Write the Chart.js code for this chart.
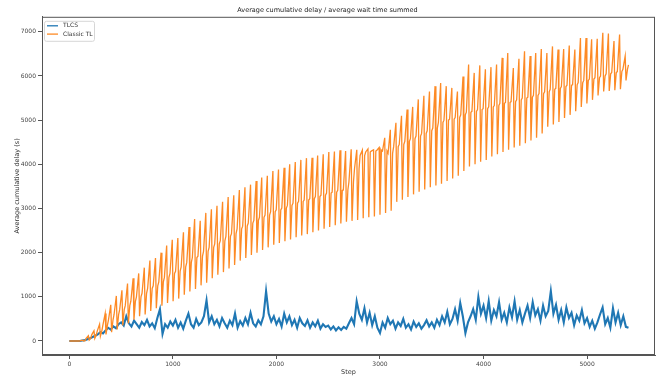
<!DOCTYPE html>
<html>
<head>
<meta charset="utf-8">
<script src="https://cdn.jsdelivr.net/npm/chart.js@4.4.1/dist/chart.umd.min.js"></script>
<style>
  html, body { margin: 0; padding: 0; background: #fff; }
  #wrap { width: 660px; height: 381px; }
</style>
</head>
<body>
<div id="wrap"><canvas id="myChart" width="660" height="381"></canvas></div>
<script>
// tick labels
const xTicks = [0, 1000, 2000, 3000, 4000, 5000];
const yTicks = [0, 1000, 2000, 3000, 4000, 5000, 6000, 7000];

// TLCS: one reading every 25 steps (0 .. 5400)
const tlcsStepSize = 25;
const tlcsValues = [
  0, 0, 0, 0, 0, 10, 20, 40, 60, 90, 120, 150, 200, 170, 240, 300, 260, 330, 290, 380,
  420, 350, 560, 400, 330, 460, 380, 300, 430, 360, 480, 330, 400, 290, 520, 720, 160, 380, 300, 440,
  350, 480, 300, 420, 280, 460, 620, 380, 300, 500, 360, 420, 560, 920, 420, 560, 380, 480, 330, 520,
  400, 300, 460, 360, 620, 300, 450, 350, 520, 380, 640, 400, 330, 470, 380, 560, 1130, 620, 440, 560,
  380, 500, 330, 620, 420, 560, 360, 480, 300, 520, 400, 340, 470, 300, 420, 330, 460, 280, 380, 320,
  350, 260, 330, 240, 310, 250, 320, 280, 400, 520, 380, 900, 620, 480, 740, 420, 640, 360, 560, 300,
  180, 420, 300, 520, 380, 460, 280, 420, 340, 500, 300, 380, 260, 440, 320, 400, 280, 360, 470, 330,
  420, 300, 480, 360, 560, 420, 660, 380, 500, 720, 460, 860, 560, 180, 420, 560, 720, 480, 1000, 620,
  800, 520, 900, 460, 700, 560, 880, 480, 640, 420, 760, 540, 900, 480, 700, 420, 620, 800, 520, 880,
  580, 720, 460, 800, 560, 680, 1130, 620, 820, 480, 700, 420, 760, 520, 640, 360, 580, 460, 700, 400,
  520, 320, 460, 280, 420, 600, 760, 380, 520, 300, 740, 420, 640, 360, 560, 320, 300
];

// Classic TL: one cycle every 54 steps, read as level / spike top / spike bottom
const classicCycle = 54;
const classicLevel = [
  0, 0, 8, 60, 140, 230, 360, 480, 600, 710,
  800, 900, 1000, 1080, 1190, 1250, 1340, 1440, 1530, 1580,
  1680, 1780, 1890, 1920, 2030, 2120, 2200, 2270, 2370, 2430,
  2540, 2600, 2670, 2730, 2800, 2850, 2930, 2970, 3010, 3070,
  3120, 3160, 3190, 3220, 3270, 3300, 3350, 3370, 3410, 3420,
  3600, 3900, 4200, 4280, 4300, 4320, 4300, 4250, 4400, 4450,
  4520, 4580, 4640, 4700, 4760, 4820, 4950, 5000, 5020, 5060,
  5120, 5180, 5200, 5240, 5260, 5300, 5330, 5380, 5400, 5420,
  5460, 5500, 5520, 5560, 5600, 5640, 5700, 5720, 5760, 5790,
  5800, 5850, 5900, 5930, 5960, 6000, 6050, 6080, 6100, 6150
];
const classicPeak = [
  0, 0, 20, 120, 230, 380, 620, 820, 1020, 1150,
  1300, 1420, 1530, 1660, 1820, 1880, 2000, 2160, 2290, 2330,
  2460, 2580, 2760, 2720, 2900, 2980, 3060, 3150, 3260, 3300,
  3420, 3480, 3540, 3620, 3700, 3740, 3850, 3880, 3920, 4000,
  4050, 4100, 4140, 4150, 4200, 4230, 4280, 4290, 4320, 4300,
  4340, 4330, 4320, 4350, 4330, 4380, 4600, 4780, 4940, 5100,
  5240, 5300, 5470, 5550, 5650, 5770, 5840, 5770, 5730, 5650,
  5990, 6260, 6070, 6240, 6150, 6200, 6260, 6410, 6520, 6180,
  6390, 6560, 6450, 6520, 6610, 6520, 6670, 6600, 6610, 6690,
  6600, 6860, 6860, 6830, 6840, 6980, 6960, 6790, 6940, 6450
];
const classicTrough = [
  0, 0, 0, 20, 60, 110, 150, 200, 260, 350,
  400, 480, 560, 600, 680, 740, 800, 860, 900, 960,
  1050, 1120, 1180, 1260, 1320, 1420, 1500, 1560, 1640, 1720,
  1820, 1880, 1950, 2000, 2060, 2120, 2180, 2220, 2260, 2300,
  2350, 2390, 2420, 2460, 2500, 2540, 2580, 2620, 2660, 2700,
  2720, 2740, 2780, 2800, 2820, 2860, 2900, 2950, 3150, 3200,
  3260, 3320, 3380, 3430, 3480, 3520, 3560, 3620, 3680, 3740,
  3850, 3950, 4000, 4060, 4100, 4180, 4230, 4280, 4330, 4380,
  4420, 4480, 4540, 4600, 4700, 4850, 4900, 4960, 5050, 5120,
  5200, 5300, 5380, 5460, 5560, 5650, 5660, 5680, 5700, 5900
];
const classicLastStep = 5400;
const classicLastValue = 6250;

const tlcsData = tlcsValues.map(function (v, i) {
    return { x: i * tlcsStepSize, y: v };
});

// level, spike up, spike down, back to level
const classicData = [];
classicLevel.forEach(function (lvl, k) {
    const s = k * classicCycle;
    classicData.push({ x: s, y: lvl });
    classicData.push({ x: s + 22, y: classicPeak[k] });
    classicData.push({ x: s + 30, y: classicTrough[k] });
    classicData.push({ x: s + 44, y: lvl });
});
classicData.push({ x: classicLastStep, y: classicLastValue });

const fontFamily = "'DejaVu Sans', sans-serif";

// matplotlib style frame + legend in the upper left corner
const framePlugin = {
    id: 'frame',
    afterDraw(chart) {
        const ctx = chart.ctx;
        const a = chart.chartArea;
        ctx.save();
        ctx.strokeStyle = '#555';
        ctx.lineWidth = 1;
        ctx.strokeRect(a.left + 0.5, a.top + 0.5, a.right - a.left - 1, a.bottom - a.top - 1);

        // legend
        const bx = a.left + 2, by = a.top + 4, bw = 50, bh = 20;
        ctx.fillStyle = 'rgba(255,255,255,0.8)';
        ctx.strokeStyle = '#d6d6d6';
        ctx.beginPath();
        ctx.roundRect(bx + 0.5, by + 0.5, bw, bh, 2);
        ctx.fill();
        ctx.stroke();
        ctx.font = '6px ' + fontFamily;
        ctx.textBaseline = 'middle';
        chart.data.datasets.forEach(function (ds, i) {
            const y = by + 5 + i * 8.3;
            ctx.strokeStyle = ds.borderColor;
            ctx.lineWidth = 1.3;
            ctx.beginPath();
            ctx.moveTo(bx + 3, y);
            ctx.lineTo(bx + 14, y);
            ctx.stroke();
            ctx.fillStyle = '#333';
            ctx.fillText(ds.label, bx + 19, y);
        });
        ctx.restore();
    }
};

const config = {
    type: 'line',
    data: {
        datasets: [{
            label: 'TLCS',
            data: tlcsData,
            borderColor: '#1f77b4',
            borderWidth: 2.1,
            pointRadius: 0,
            order: 1
        }, {
            label: 'Classic TL',
            data: classicData,
            borderColor: '#fd8a25',
            borderWidth: 1.3,
            pointRadius: 0,
            order: 0
        }]
    },
    options: {
        responsive: false,
        animation: false,
        devicePixelRatio: 1,
        layout: { padding: { left: 0, right: 5, top: 0, bottom: 3 } },
        plugins: {
            legend: { display: false },
            tooltip: { enabled: false },
            title: {
                display: true,
                text: 'Average cumulative delay / average wait time summed',
                color: '#222',
                font: { family: fontFamily, size: 6.5, weight: 'normal' },
                padding: { top: 6, bottom: 3 }
            }
        },
        scales: {
            x: {
                type: 'linear',
                min: -264,
                max: 5656,
                afterBuildTicks: function (s) { s.ticks = xTicks.map(function (v) { return { value: v }; }); },
                afterFit: function (s) { s.height = 23; },
                ticks: {
                    color: '#444',
                    font: { family: fontFamily, size: 6 },
                    padding: 2,
                    maxRotation: 0,
                    callback: function (v) { return String(v); }
                },
                grid: { drawOnChartArea: false, tickLength: 4, color: '#555' },
                border: { display: true, color: '#555' },
                title: {
                    display: true,
                    text: 'Step',
                    color: '#333',
                    font: { family: fontFamily, size: 6.5 },
                    padding: { top: 0, bottom: 2 }
                }
            },
            y: {
                type: 'linear',
                min: -317,
                max: 7340,
                afterBuildTicks: function (s) { s.ticks = yTicks.map(function (v) { return { value: v }; }); },
                afterFit: function (s) { s.width = 42; },
                ticks: {
                    color: '#444',
                    font: { family: fontFamily, size: 6 },
                    padding: 2,
                    callback: function (v) { return String(v); }
                },
                grid: { drawOnChartArea: false, tickLength: 4, color: '#555' },
                border: { display: true, color: '#555' },
                title: {
                    display: true,
                    text: 'Average cumulative delay (s)',
                    color: '#333',
                    font: { family: fontFamily, size: 6.5 },
                    padding: { top: 13, bottom: 0 }
                }
            }
        }
    },
    plugins: [framePlugin]
};

var myChart = new Chart(document.getElementById('myChart'), config);
</script>
</body>
</html>
